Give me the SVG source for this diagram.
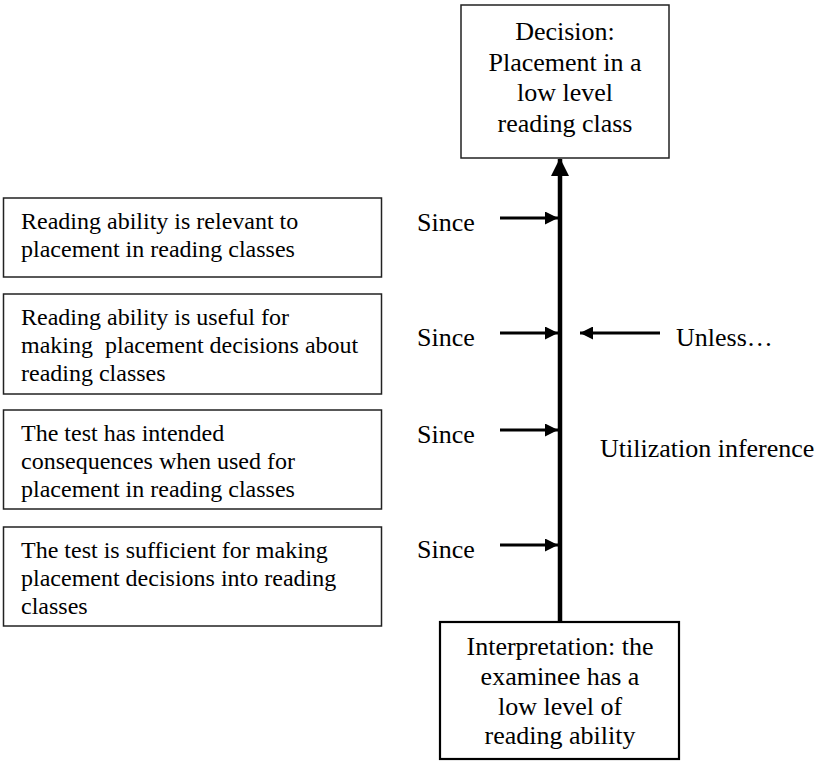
<svg xmlns="http://www.w3.org/2000/svg" width="819" height="761" viewBox="0 0 819 761">
  <style>
    text { font-family: "Liberation Serif", "Times New Roman", Times, serif; fill: #000000; }
    .box { fill: #ffffff; stroke: #222222; stroke-width: 1.5; }
    .box-strong { fill: #ffffff; stroke: #000000; stroke-width: 2.2; }
    .t { font-size: 24px; }
    .c { font-size: 26px; text-anchor: middle; }
    .lbl { font-size: 26px; }
    .conn { stroke: #000000; stroke-width: 3; fill: none; }
    .spine { stroke: #000000; stroke-width: 4.5; fill: none; }
  </style>
  <defs>
    <marker id="head" viewBox="0 0 13 13" refX="13" refY="6.5" markerWidth="13" markerHeight="13" markerUnits="userSpaceOnUse" orient="auto">
      <path d="M0,0 L13,6.5 L0,13 Z" fill="#000000"/>
    </marker>
    <marker id="head-big" viewBox="0 0 18 18" refX="17" refY="9" markerWidth="18" markerHeight="18" markerUnits="userSpaceOnUse" orient="auto">
      <path d="M0,0 L18,9 L0,18 Z" fill="#000000"/>
    </marker>
  </defs>

  <!-- connectors -->
  <g id="connectors">
    <line class="spine" x1="560" y1="622" x2="560" y2="159" marker-end="url(#head-big)"/>
    <line class="conn" x1="500" y1="218" x2="558" y2="218" marker-end="url(#head)"/>
    <line class="conn" x1="500" y1="333" x2="558" y2="333" marker-end="url(#head)"/>
    <line class="conn" x1="500" y1="430" x2="558" y2="430" marker-end="url(#head)"/>
    <line class="conn" x1="500" y1="545" x2="558" y2="545" marker-end="url(#head)"/>
    <line class="conn" x1="660" y1="333" x2="580" y2="333" marker-end="url(#head)"/>
  </g>

  <!-- claim: decision -->
  <g id="decision">
    <rect class="box" x="461" y="5" width="208" height="153"/>
    <text class="c" x="565" y="40">Decision:</text>
    <text class="c" x="565" y="71">Placement in a</text>
    <text class="c" x="565" y="101">low level</text>
    <text class="c" x="565" y="132">reading class</text>
  </g>

  <!-- warrants -->
  <g id="warrant-relevance">
    <rect class="box" x="3.5" y="198" width="378" height="79"/>
    <text class="t" x="21" y="229">Reading ability is relevant to</text>
    <text class="t" x="21" y="257">placement in reading classes</text>
  </g>

  <g id="warrant-utility">
    <rect class="box" x="3.5" y="294" width="378" height="100"/>
    <text class="t" x="21" y="325" xml:space="preserve">Reading ability is useful for</text>
    <text class="t" x="21" y="353" xml:space="preserve">making  placement decisions about</text>
    <text class="t" x="21" y="381">reading classes</text>
  </g>

  <g id="warrant-consequences">
    <rect class="box" x="3.5" y="410" width="378" height="99"/>
    <text class="t" x="21" y="441">The test has intended</text>
    <text class="t" x="21" y="469">consequences when used for</text>
    <text class="t" x="21" y="497">placement in reading classes</text>
  </g>

  <g id="warrant-sufficiency">
    <rect class="box" x="3.5" y="527" width="378" height="99"/>
    <text class="t" x="21" y="558">The test is sufficient for making</text>
    <text class="t" x="21" y="586">placement decisions into reading</text>
    <text class="t" x="21" y="614">classes</text>
  </g>

  <!-- labels -->
  <g id="labels">
    <text class="lbl" x="417" y="231">Since</text>
    <text class="lbl" x="417" y="346">Since</text>
    <text class="lbl" x="417" y="443">Since</text>
    <text class="lbl" x="417" y="558">Since</text>
    <text class="lbl" x="676" y="346">Unless…</text>
    <text class="lbl" x="600" y="457">Utilization inference</text>
  </g>

  <!-- data: interpretation -->
  <g id="interpretation">
    <rect class="box-strong" x="440" y="622" width="239" height="137"/>
    <text class="c" x="560" y="655">Interpretation: the</text>
    <text class="c" x="560" y="685">examinee has a</text>
    <text class="c" x="560" y="715">low level of</text>
    <text class="c" x="560" y="744">reading ability</text>
  </g>
</svg>
